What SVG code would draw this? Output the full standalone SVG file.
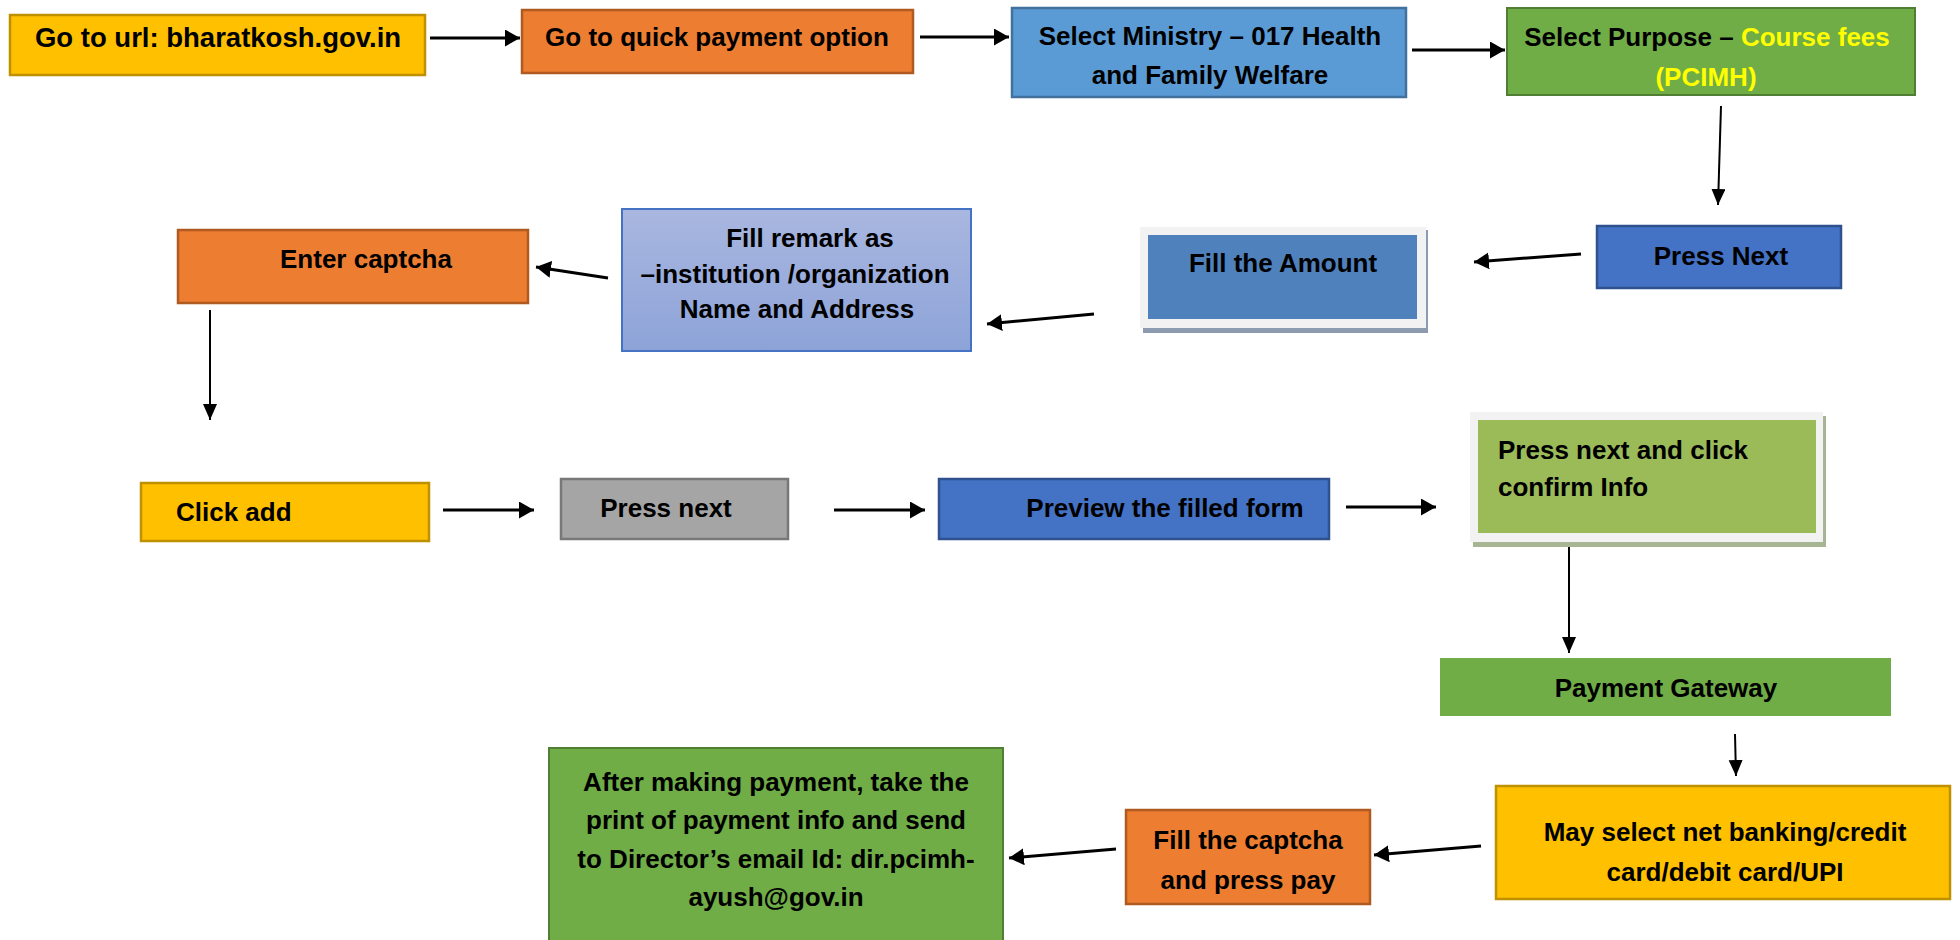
<svg xmlns="http://www.w3.org/2000/svg" width="1960" height="940" viewBox="0 0 1960 940">
<defs>
<style>
text{font-family:"Liberation Sans",Arial,sans-serif;font-weight:bold;font-size:26px;fill:#000}
.c{text-anchor:middle}
.y{fill:#FFFF00}
.yel{fill:#FFC000;stroke:#BF9000;stroke-width:2.5}
.org{fill:#ED7D31;stroke:#AE5A21;stroke-width:2.5}
.blu{fill:#4472C4;stroke:#2F528F;stroke-width:2.5}
.grn{fill:#70AD47;stroke:#507E32;stroke-width:2}
.con line{stroke:#000;fill:none}
.t{stroke-width:3;marker-end:url(#ah)}
.n{stroke-width:2;marker-end:url(#av)}
</style>
<marker id="ah" markerUnits="userSpaceOnUse" markerWidth="16" markerHeight="18" refX="15" refY="8.5" orient="auto">
<path d="M0,0 L15,8.5 L0,17 z" fill="#000"/>
</marker>
<marker id="av" markerUnits="userSpaceOnUse" markerWidth="18" markerHeight="16" refX="16" refY="7" orient="auto">
<path d="M0,0 L16,7 L0,14 z" fill="#000"/>
</marker>
<linearGradient id="gr" x1="0" y1="0" x2="0" y2="1">
<stop offset="0" stop-color="#A9B7E0"/>
<stop offset="1" stop-color="#8DA3D8"/>
</linearGradient>
</defs>
<rect width="1960" height="940" fill="#fff"/>

<g class="con">
<line class="t" x1="430" y1="38" x2="520" y2="38"/>
<line class="t" x1="920" y1="37" x2="1009" y2="37"/>
<line class="t" x1="1412" y1="50" x2="1505" y2="50"/>
<line class="n" x1="1721" y1="106" x2="1718" y2="205"/>
<line class="t" x1="1581" y1="254" x2="1474" y2="262"/>
<line class="t" x1="1094" y1="314" x2="987" y2="324"/>
<line class="t" x1="608" y1="278" x2="536" y2="267"/>
<line class="n" x1="210" y1="310" x2="210" y2="420"/>
<line class="t" x1="443" y1="510" x2="534" y2="510"/>
<line class="t" x1="834" y1="510" x2="925" y2="510"/>
<line class="t" x1="1346" y1="507" x2="1436" y2="507"/>
<line class="n" x1="1569" y1="545" x2="1569" y2="653"/>
<line class="n" x1="1735" y1="734" x2="1736" y2="776"/>
<line class="t" x1="1481" y1="846" x2="1374" y2="855"/>
<line class="t" x1="1116" y1="849" x2="1009" y2="858"/>
</g>

<g id="n1"><rect class="yel" x="10" y="15" width="415" height="60"/>
<text class="c" x="218" y="47" style="font-size:27.5px">Go to url: bharatkosh.gov.in</text></g>

<g id="n2"><rect class="org" x="522" y="10" width="391" height="63"/>
<text class="c" x="717" y="46">Go to quick payment option</text></g>

<g id="n3"><rect x="1012" y="8" width="394" height="89" fill="#5B9BD5" stroke="#41719C" stroke-width="2.5"/>
<text class="c" x="1210" y="45">Select Ministry – 017 Health</text>
<text class="c" x="1210" y="84">and Family Welfare</text></g>

<g id="n4"><rect class="grn" x="1507" y="8" width="408" height="87"/>
<text class="c" x="1707" y="46">Select Purpose – <tspan class="y">Course fees</tspan></text>
<text class="c y" x="1706" y="86">(PCIMH)</text></g>

<g id="n5"><rect class="blu" x="1597" y="226" width="244" height="62"/>
<text class="c" x="1721" y="265">Press Next</text></g>

<g id="n6"><rect x="1143" y="230" width="285" height="103" fill="#8C9BAF"/>
<rect x="1140" y="227" width="286" height="101" fill="#F2F2F2"/>
<rect x="1148" y="235" width="269" height="84" fill="#4F81BD"/>
<text class="c" x="1283" y="272">Fill the Amount</text></g>

<g id="n7"><rect x="622" y="209" width="349" height="142" fill="url(#gr)" stroke="#4472C4" stroke-width="2"/>
<text class="c" x="810" y="247">Fill remark as</text>
<text class="c" x="795" y="283">–institution /organization</text>
<text class="c" x="797" y="318">Name and Address</text></g>

<g id="n8"><rect class="org" x="178" y="230" width="350" height="73"/>
<text class="c" x="366" y="268">Enter captcha</text></g>

<g id="n9"><rect class="yel" x="141" y="483" width="288" height="58"/>
<text x="176" y="521">Click add</text></g>

<g id="n10"><rect x="561" y="479" width="227" height="60" fill="#A5A5A5" stroke="#787878" stroke-width="2.5"/>
<text class="c" x="666" y="517">Press next</text></g>

<g id="n11"><rect class="blu" x="939" y="479" width="390" height="60"/>
<text class="c" x="1165" y="517">Preview the filled form</text></g>

<g id="n12"><rect x="1473" y="416" width="353" height="131" fill="#A8B592"/>
<rect x="1470" y="412" width="353" height="130" fill="#F2F2F2"/>
<rect x="1478" y="420" width="338" height="113" fill="#9BBB59"/>
<text x="1498" y="459">Press next and click</text>
<text x="1498" y="496">confirm Info</text></g>

<g id="n13"><rect x="1440" y="658" width="451" height="58" fill="#70AD47"/>
<text class="c" x="1666" y="697">Payment Gateway</text></g>

<g id="n14"><rect class="yel" x="1496" y="786" width="454" height="113"/>
<text class="c" x="1725" y="841">May select net banking/credit</text>
<text class="c" x="1725" y="881">card/debit card/UPI</text></g>

<g id="n15"><rect class="org" x="1126" y="810" width="244" height="94"/>
<text class="c" x="1248" y="849">Fill the captcha</text>
<text class="c" x="1248" y="889">and press pay</text></g>

<g id="n16"><rect class="grn" x="549" y="748" width="454" height="200"/>
<text class="c" x="776" y="791">After making payment, take the</text>
<text class="c" x="776" y="829">print of payment info and send</text>
<text class="c" x="776" y="868">to Director’s email Id: dir.pcimh-</text>
<text class="c" x="776" y="906">ayush@gov.in</text></g>
</svg>
